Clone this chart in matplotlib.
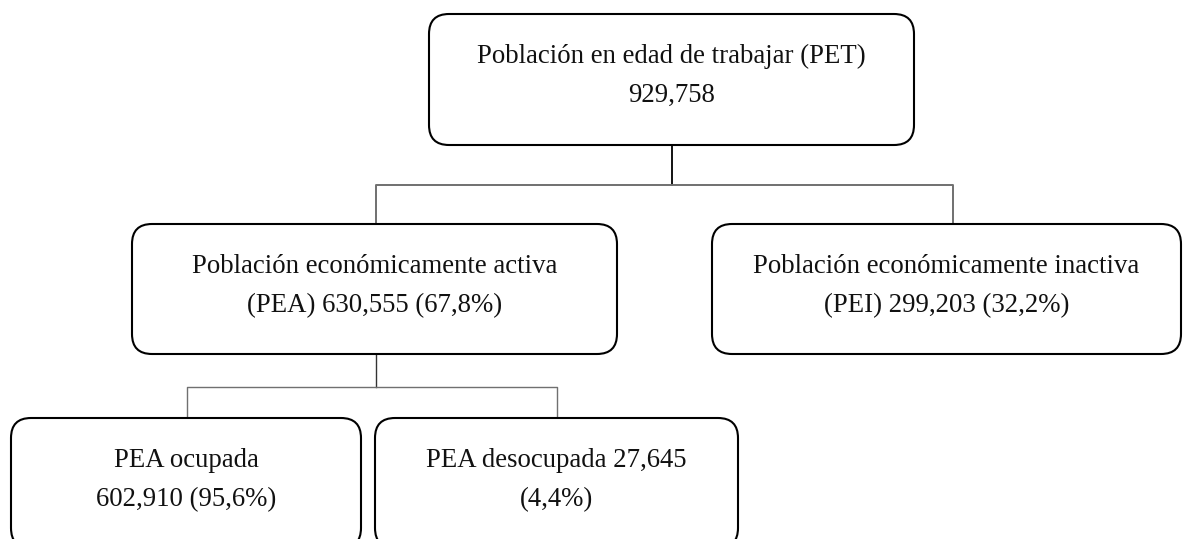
import matplotlib.pyplot as plt
from matplotlib.patches import FancyBboxPatch

# box texts (two lines each)
line1 = ['Población en edad de trabajar (PET)',
         'Población económicamente activa',
         'Población económicamente inactiva',
         'PEA ocupada',
         'PEA desocupada 27,645']
line2 = ['929,758',
         '(PEA) 630,555 (67,8%)',
         '(PEI) 299,203 (32,2%)',
         '602,910 (95,6%)',
         '(4,4%)']

# box geometry in pixels: left, right, top, bottom
boxes = [(429, 914, 14, 145),
         (132, 617, 224, 354),
         (712, 1181, 224, 354),
         (11, 361, 418, 548),
         (375, 738, 418, 548)]

W, H = 1184, 539
fig = plt.figure(figsize=(W / 100, H / 100), dpi=100)
ax = fig.add_axes([0, 0, 1, 1])
ax.set_xlim(0, W)
ax.set_ylim(H, 0)
ax.axis('off')

for (l, r, t, b), a, c in zip(boxes, line1, line2):
    ax.add_patch(FancyBboxPatch((l, t), r - l, b - t,
                                boxstyle='round,pad=0,rounding_size=20',
                                fc='white', ec='black', lw=1.5, zorder=2))
    cx = (l + r) / 2
    ax.text(cx, t + 49, a, ha='center', va='baseline', fontsize=19.3,
            family='Liberation Serif', color='#111111', zorder=3)
    ax.text(cx, t + 88, c, ha='center', va='baseline', fontsize=19.3,
            family='Liberation Serif', color='#111111', zorder=3)

# connectors
gray = '#707070'
ax.plot([672, 672], [145, 185], color='black', lw=1.3, zorder=1)
ax.plot([376, 376, 953, 953], [224, 185, 185, 224], color=gray, lw=1.4, zorder=1)
ax.plot([376, 376], [354, 387], color='#333333', lw=1.0, zorder=1)
ax.plot([187, 187, 557, 557], [418, 387, 387, 418], color=gray, lw=1.0, zorder=1)

fig.savefig('out.png', dpi=100)
